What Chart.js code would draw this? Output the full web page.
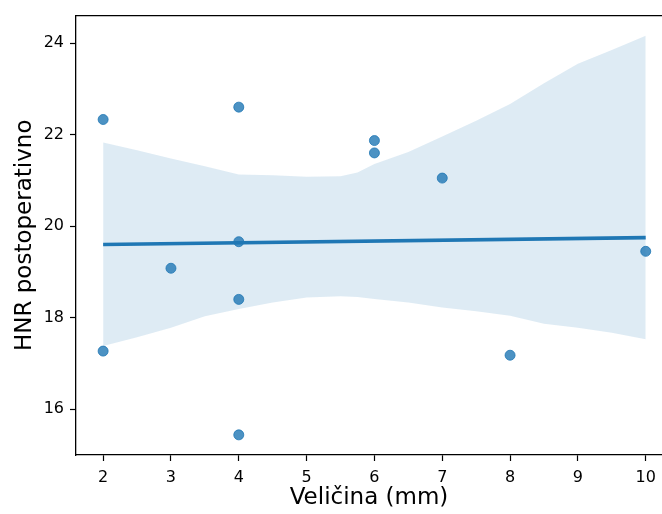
<!DOCTYPE html>
<html><head><meta charset="utf-8">
<script src="https://cdn.jsdelivr.net/npm/chart.js@4/dist/chart.umd.min.js"></script>
<style>
html,body{margin:0;padding:0;background:#fff;overflow:hidden;width:662px;height:514px}
#wrap{position:absolute;left:0;top:0;width:662px;height:514px}
</style>
</head><body><div id="wrap"><canvas id="c" width="662" height="514"></canvas></div>
<script>
// observed points
const sizeMm  = [2, 2, 3, 4, 4, 4, 4, 6, 6, 7, 8, 10];
const hnrPost = [22.33, 17.27, 19.08, 22.60, 19.66, 18.40, 15.44, 21.87, 21.60, 21.05, 17.18, 19.45];
// regression line (read at ends)
const fitX = [2, 10];
const fitY = [19.60, 19.75];
// confidence band
const bandX     = [2, 2.5, 3, 3.5, 4, 4.5, 5, 5.5, 5.75, 6, 6.5, 7, 7.5, 8, 8.5, 9, 9.5, 10];
const bandUpper = [21.83, 21.66, 21.48, 21.31, 21.13, 21.11, 21.08, 21.09, 21.17, 21.36, 21.62, 21.96, 22.30, 22.67, 23.12, 23.55, 23.85, 24.16];
const bandLower = [17.38, 17.57, 17.78, 18.03, 18.19, 18.33, 18.44, 18.47, 18.45, 18.41, 18.33, 18.22, 18.14, 18.04, 17.87, 17.78, 17.67, 17.53];
// ticks
const xTicks = [2, 3, 4, 5, 6, 7, 8, 9, 10];
const yTicks = [16, 18, 20, 22, 24];
const xTitle = 'Veličina (mm)';
const yTitle = 'HNR postoperativno';

const pts = (xs, ys) => xs.map((x, i) => ({x: x, y: ys[i]}));
const FONT = 'DejaVu Sans';
const blue = '#1f77b4';

const topSpine = {
  id: 'topSpine',
  afterDatasetsDraw(chart) {
    const a = chart.chartArea, ctx = chart.ctx;
    ctx.save();
    ctx.strokeStyle = '#000';
    ctx.lineWidth = 1.3;
    ctx.beginPath();
    ctx.moveTo(a.left, a.top);
    ctx.lineTo(chart.width + 2, a.top);
    ctx.stroke();
    ctx.restore();
  }
};

new Chart(document.getElementById('c'), {
  type: 'line',
  data: {
    datasets: [
      {label: 'points', data: pts(sizeMm, hnrPost), showLine: false, pointRadius: 5, pointBorderWidth: 1,
        pointBackgroundColor: 'rgba(31,119,180,0.8)', pointBorderColor: 'rgba(31,119,180,0.8)', order: 3},
      {label: 'upper', data: pts(bandX, bandUpper), borderWidth: 0, borderColor: 'rgba(0,0,0,0)', pointRadius: 0, fill: false, order: 2},
      {label: 'lower', data: pts(bandX, bandLower), borderWidth: 0, borderColor: 'rgba(0,0,0,0)', pointRadius: 0, fill: '-1',
        backgroundColor: 'rgba(31,119,180,0.15)', order: 2},
      {label: 'fit', data: pts(fitX, fitY), borderColor: blue, borderWidth: 3.6, pointRadius: 0, fill: false, order: 1}
    ]
  },
  options: {
    responsive: false,
    animation: false,
    events: [],
    layout: {autoPadding: false, padding: {left: 0, top: 11, right: 0, bottom: 0}},
    plugins: {legend: {display: false}, tooltip: {enabled: false}},
    scales: {
      x: {
        type: 'linear',
        min: 1.6, max: 10.24,
        afterBuildTicks: s => { s.ticks = xTicks.map(v => ({value: v})); },
        afterFit: s => { s.height = 59; s.paddingRight = 0; },
        grid: {display: true, drawOnChartArea: false, drawTicks: true, tickLength: 6, tickColor: '#000', tickWidth: 1.2, color: '#000'},
        border: {display: true, color: '#000', width: 1.3},
        ticks: {color: '#000', font: {family: FONT, size: 16}, padding: 7, maxRotation: 0, autoSkip: false},
        title: {display: true, text: xTitle, color: '#000', font: {family: FONT, size: 23}, padding: {top: 0, bottom: 2}}
      },
      y: {
        type: 'linear',
        min: 15.0, max: 24.6,
        afterBuildTicks: s => { s.ticks = yTicks.map(v => ({value: v})); },
        afterFit: s => { s.width = 76; },
        grid: {display: true, drawOnChartArea: false, drawTicks: true, tickLength: 6, tickColor: '#000', tickWidth: 1.2, color: '#000'},
        border: {display: true, color: '#000', width: 1.3},
        ticks: {color: '#000', font: {family: FONT, size: 16}, padding: 6, autoSkip: false},
        title: {display: true, text: yTitle, color: '#000', font: {family: FONT, size: 23}, padding: {top: 11, bottom: 0}}
      }
    }
  },
  plugins: [topSpine]
});
</script>
</body></html>
